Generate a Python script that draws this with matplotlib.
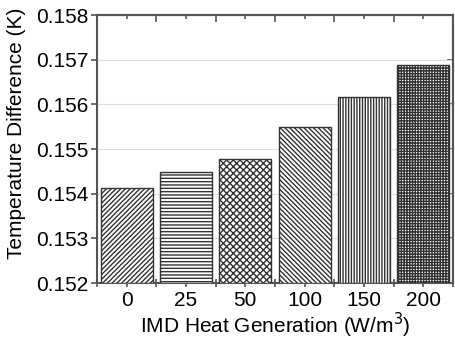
import numpy as np
import matplotlib.pyplot as plt
from matplotlib.ticker import MultipleLocator, FixedLocator

# Datos
categorias = ['0', '25', '50', '100', '150', '200']
diferencias = [0.15412, 0.15448, 0.15477, 0.15549, 0.15616, 0.15688]
tramas = ['///////', '-----', 'xxxxx', '\\\\\\\\\\\\\\', '||||||', '++++++']

plt.rcParams['font.family'] = ['Liberation Sans', 'DejaVu Sans']
plt.rcParams['hatch.linewidth'] = 1.0
plt.rcParams['hatch.color'] = '#2a2a2a'

fig = plt.figure(figsize=(4.56, 3.41), dpi=100)
ax = fig.add_axes([0.2127, 0.170, 0.7807, 0.786])

x = np.arange(len(categorias))
for i in range(len(categorias)):
    ax.bar(x[i], diferencias[i] - 0.152, bottom=0.152, width=0.88,
           facecolor='white', edgecolor='#333333', linewidth=1.0,
           hatch=tramas[i], zorder=3)

# Ejes
ax.set_xlim(-0.5, 5.5)
ax.set_ylim(0.152, 0.158)
ax.yaxis.set_major_locator(MultipleLocator(0.001))
ax.yaxis.set_major_formatter(plt.FormatStrFormatter('%.3f'))
ax.set_xticks(x)
ax.set_xticklabels(categorias)
ax.xaxis.set_minor_locator(FixedLocator(np.arange(-0.5, 6.0, 1.0)))

ax.grid(axis='y', color='#dddddd', linewidth=0.8, zorder=0)

for s in ax.spines.values():
    s.set_color('#555555')
    s.set_linewidth(1.5)

ax.tick_params(axis='y', which='major', direction='out', length=4, width=1.2,
               color='#555555', labelsize=15, pad=2)
ax.tick_params(axis='x', which='major', direction='out', length=3, width=1.2,
               color='#555555', labelsize=15, pad=3)
ax.tick_params(axis='x', which='minor', direction='inout', length=6, width=1.2,
               color='#555555')

# marcas interiores arriba y a la derecha
arriba = ax.secondary_xaxis('top')
arriba.set_xticks(x)
arriba.xaxis.set_minor_locator(FixedLocator(np.arange(-0.5, 6.0, 1.0)))
arriba.tick_params(which='major', direction='in', length=3, width=1.2, color='#555555',
                   labeltop=False)
arriba.tick_params(which='minor', direction='in', length=5, width=1.2, color='#555555')
arriba.spines['top'].set_color('#555555')
arriba.spines['top'].set_linewidth(1.5)

derecha = ax.secondary_yaxis('right')
derecha.yaxis.set_major_locator(MultipleLocator(0.001))
derecha.tick_params(direction='in', length=4, width=1.2, color='#555555',
                    labelright=False)
derecha.spines['right'].set_color('#555555')
derecha.spines['right'].set_linewidth(1.5)

ax.set_ylabel('Temperature Difference (K)', fontsize=15)
ax.yaxis.set_label_coords(-0.20, 0.56)
ax.set_xlabel('IMD Heat Generation (W/m$^3$)', fontsize=15, labelpad=0)

plt.savefig('out.png', dpi=100)
